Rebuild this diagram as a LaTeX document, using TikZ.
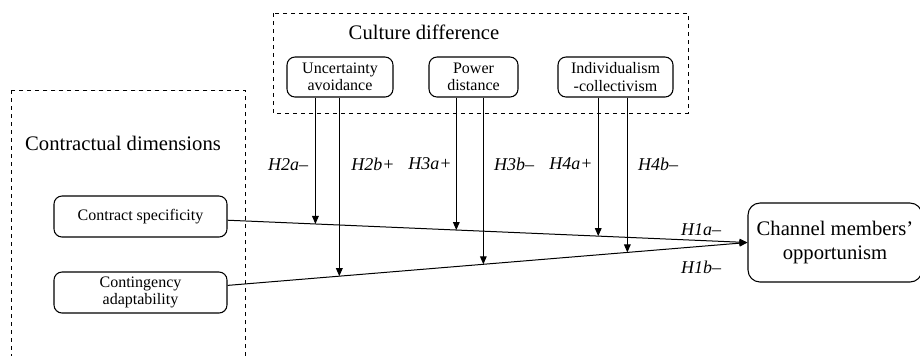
\documentclass[tikz,border=0pt]{standalone}
\usepackage{fontspec}
\setmainfont{Liberation Serif}
\usetikzlibrary{arrows.meta,positioning,calc}

\begin{document}
\begin{tikzpicture}[x=0.75pt, y=-0.75pt,
        factor/.style={rectangle, rounded corners=6pt, draw, line width=0.8pt,
            text centered, align=center, inner sep=1pt,
            font=\fontsize{12}{13}\selectfont},
        outcome/.style={rectangle, rounded corners=9pt, draw, line width=0.8pt,
            align=center, font=\fontsize{15.5}{18.5}\selectfont},
        group/.style={draw, dashed, line width=0.6pt},
        title/.style={font=\fontsize{15.5}{17}\selectfont},
        hyp/.style={font=\fontsize{13.5}{15}\selectfont\itshape},
        flow/.style={-{Triangle[length=6pt, width=5pt]}, line width=0.75pt},
    ]
        \useasboundingbox (0,0) rectangle (920,355);

        % Groups
        \draw[group] (273,13) rectangle (688,113);
        \draw[group] (11,90) rectangle (245,362);
        \node[title] (culture) at (424,32) {Culture difference};
        \node[title] (contract) at (123,143) {Contractual dimensions};

        % Moderators
        \node[factor, minimum width=79.5pt, minimum height=30pt] (ua) at (340,77)
            {Uncertainty\\avoidance};
        \node[factor, minimum width=66.75pt, minimum height=30pt] (pd) at (473.5,77)
            {Power\\distance};
        \node[factor, minimum width=86.25pt, minimum height=30pt] (ic) at (615.5,77)
            {Individualism\\-collectivism};

        % Independent variables
        \node[factor, minimum width=129.75pt, minimum height=30.75pt] (spec) at (140.5,216.5)
            {Contract specificity};
        \node[factor, minimum width=129.75pt, minimum height=30.75pt] (adapt) at (140.5,292.5)
            {Contingency\\adaptability};

        % Dependent variable
        \node[outcome, minimum width=130.5pt, minimum height=59.25pt] (opp) at (835,242.5)
            {Channel members'\\opportunism};

        % Main effects
        \draw[flow] (spec) -- coordinate[pos=0.169] (h2a) coordinate[pos=0.440] (h3a)
            coordinate[pos=0.713] (h4a) (opp.west);
        \draw[flow] (adapt) -- coordinate[pos=0.215] (h2b) coordinate[pos=0.492] (h3b)
            coordinate[pos=0.769] (h4b) (opp.west);

        % Moderating effects
        \draw[flow] (ua.south -| h2a) -- (h2a);
        \draw[flow] (ua.south -| h2b) -- (h2b);
        \draw[flow] (pd.south -| h3a) -- (h3a);
        \draw[flow] (pd.south -| h3b) -- (h3b);
        \draw[flow] (ic.south -| h4a) -- (h4a);
        \draw[flow] (ic.south -| h4b) -- (h4b);

        % Hypotheses
        \node[hyp] (l2a) at (288,165) {H2a--};
        \node[hyp] (l2b) at (373,164) {H2b+};
        \node[hyp] (l3a) at (430,164) {H3a+};
        \node[hyp] (l3b) at (514,164) {H3b--};
        \node[hyp] (l4a) at (571,164) {H4a+};
        \node[hyp] (l4b) at (658,164) {H4b--};
        \node[hyp] (l1a) at (701,230) {H1a--};
        \node[hyp] (l1b) at (701,267) {H1b--};
    \end{tikzpicture}
\end{document}
